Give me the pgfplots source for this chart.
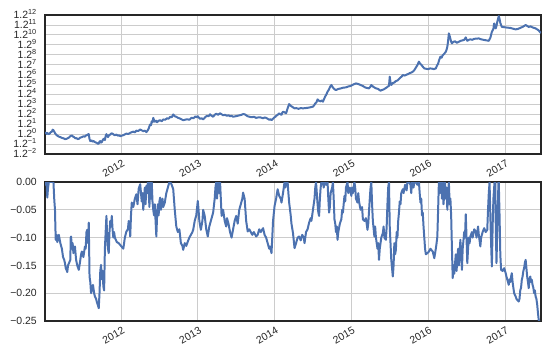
\documentclass[border=0pt]{standalone}
\usepackage{pgfplots}
\pgfplotsset{compat=1.18}
\usepackage{fontspec}
\setmainfont{Liberation Sans}
\definecolor{sbblue}{HTML}{4C72B0}
\definecolor{txt}{HTML}{262626}
\definecolor{gridc}{HTML}{CCCCCC}
\pgfplotstableread{
x y
2011.01 0.05
2011.02 0.15
2011.03 0.02
2011.04 0.12
2011.055 0.00
2011.07 0.05
2011.085 0.20
2011.10 0.25
2011.11 0.45
2011.12 0.40
2011.13 0.25
2011.14 0.10
2011.155 -0.05
2011.17 -0.15
2011.19 -0.25
2011.21 -0.30
2011.23 -0.38
2011.25 -0.42
2011.27 -0.50
2011.29 -0.47
2011.305 -0.42
2011.32 -0.35
2011.34 -0.20
2011.36 -0.13
2011.375 -0.25
2011.39 -0.30
2011.405 -0.42
2011.42 -0.40
2011.435 -0.50
2011.45 -0.47
2011.47 -0.35
2011.49 -0.30
2011.51 -0.22
2011.53 -0.25
2011.545 -0.12
2011.56 -0.10
2011.57 -0.02
2011.58 0.00
2011.59 -0.50
2011.60 -0.70
2011.615 -0.62
2011.63 -0.75
2011.645 -0.70
2011.66 -0.80
2011.675 -0.85
2011.69 -0.90
2011.70 -0.98
2011.71 -0.94
2011.72 -0.75
2011.73 -0.70
2011.74 -0.85
2011.75 -0.80
2011.765 -0.55
2011.78 -0.45
2011.79 -0.60
2011.80 -0.20
2011.81 0.00
2011.82 -0.15
2011.83 -0.30
2011.845 -0.10
2011.86 -0.05
2011.875 0.08
2011.89 0.05
2011.905 -0.05
2011.92 -0.10
2011.94 -0.05
2011.96 -0.15
2011.975 -0.12
2011.99 -0.20
2012.01 -0.15
2012.03 -0.10
2012.05 -0.02
2012.07 0.05
2012.095 0.02
2012.12 0.13
2012.14 0.20
2012.16 0.25
2012.18 0.18
2012.20 0.35
2012.225 0.32
2012.25 0.47
2012.27 0.38
2012.29 0.30
2012.31 0.35
2012.33 0.20
2012.345 0.35
2012.36 0.55
2012.37 0.80
2012.38 0.97
2012.39 0.90
2012.40 1.30
2012.41 1.20
2012.42 1.64
2012.43 1.40
2012.44 1.25
2012.455 1.35
2012.47 1.20
2012.49 1.35
2012.51 1.40
2012.53 1.30
2012.55 1.48
2012.575 1.45
2012.60 1.60
2012.62 1.55
2012.64 1.75
2012.66 1.70
2012.68 1.98
2012.70 1.80
2012.72 1.75
2012.74 1.65
2012.76 1.60
2012.785 1.50
2012.81 1.40
2012.835 1.45
2012.86 1.50
2012.89 1.45
2012.92 1.65
2012.945 1.60
2012.97 1.80
2012.985 1.70
2013.00 1.80
2013.015 1.65
2013.03 1.55
2013.05 1.60
2013.07 1.48
2013.095 1.70
2013.12 1.85
2013.14 1.80
2013.16 2.00
2013.18 1.85
2013.20 1.75
2013.22 1.95
2013.24 2.05
2013.265 1.95
2013.29 2.10
2013.31 2.00
2013.33 1.90
2013.355 1.95
2013.38 1.85
2013.40 1.90
2013.42 1.80
2013.44 1.85
2013.46 1.75
2013.49 1.80
2013.52 1.85
2013.545 1.90
2013.57 1.95
2013.59 2.02
2013.61 2.00
2013.63 1.90
2013.65 1.80
2013.675 1.75
2013.70 1.70
2013.73 1.75
2013.76 1.64
2013.785 1.68
2013.81 1.70
2013.83 1.65
2013.85 1.60
2013.87 1.68
2013.89 1.64
2013.91 1.55
2013.93 1.45
2013.945 1.50
2013.96 1.40
2013.98 1.55
2014.00 1.70
2014.01 1.75
2014.02 1.83
2014.04 1.95
2014.06 2.10
2014.075 2.00
2014.09 1.95
2014.10 2.15
2014.11 2.26
2014.13 2.20
2014.15 2.10
2014.17 2.60
2014.19 3.03
2014.205 2.90
2014.22 2.80
2014.24 2.70
2014.26 2.60
2014.285 2.62
2014.31 2.55
2014.34 2.62
2014.37 2.60
2014.40 2.62
2014.43 2.65
2014.465 2.70
2014.50 2.77
2014.515 2.90
2014.53 3.10
2014.545 3.20
2014.56 3.50
2014.58 3.35
2014.60 3.30
2014.615 3.40
2014.63 3.27
2014.645 3.55
2014.66 3.80
2014.675 4.00
2014.69 4.28
2014.705 4.45
2014.72 4.70
2014.73 4.85
2014.74 4.95
2014.755 4.75
2014.77 4.60
2014.785 4.50
2014.80 4.44
2014.83 4.55
2014.86 4.60
2014.895 4.68
2014.93 4.71
2014.96 4.80
2014.99 4.85
2015.025 5.00
2015.06 5.11
2015.09 5.05
2015.12 4.95
2015.15 4.85
2015.18 4.70
2015.205 4.65
2015.23 4.61
2015.245 4.75
2015.26 4.95
2015.28 4.80
2015.30 4.70
2015.325 4.60
2015.35 4.55
2015.365 4.45
2015.38 4.38
2015.40 4.45
2015.42 4.50
2015.44 4.60
2015.46 4.70
2015.475 4.80
2015.49 4.85
2015.50 5.79
2015.51 5.20
2015.52 4.95
2015.54 5.15
2015.56 5.20
2015.58 5.35
2015.60 5.40
2015.62 5.55
2015.64 5.70
2015.655 5.80
2015.67 5.95
2015.695 5.90
2015.72 6.00
2015.74 6.05
2015.76 6.15
2015.78 6.20
2015.80 6.29
2015.82 6.45
2015.84 6.70
2015.86 6.95
2015.88 7.30
2015.895 7.10
2015.91 7.00
2015.93 6.80
2015.95 6.62
2015.975 6.58
2016.00 6.55
2016.025 6.62
2016.05 6.60
2016.075 6.55
2016.10 6.62
2016.115 6.90
2016.13 7.10
2016.145 7.50
2016.16 7.80
2016.175 7.70
2016.19 7.95
2016.21 8.10
2016.23 8.30
2016.24 8.50
2016.25 8.80
2016.26 9.40
2016.27 10.15
2016.28 9.90
2016.29 9.60
2016.30 9.30
2016.31 9.14
2016.33 9.30
2016.35 9.35
2016.375 9.20
2016.40 9.31
2016.425 9.40
2016.45 9.45
2016.47 9.50
2016.49 9.74
2016.50 9.55
2016.51 9.40
2016.53 9.50
2016.55 9.55
2016.575 9.50
2016.60 9.60
2016.63 9.62
2016.66 9.64
2016.69 9.55
2016.72 9.50
2016.755 9.45
2016.79 9.40
2016.80 9.55
2016.81 9.70
2016.82 10.00
2016.83 10.30
2016.84 10.45
2016.85 10.60
2016.855 10.90
2016.86 11.15
2016.87 10.80
2016.88 10.65
2016.89 10.90
2016.90 11.30
2016.91 11.60
2016.92 11.89
2016.93 11.60
2016.94 11.20
2016.95 11.00
2016.96 10.80
2016.985 10.78
2017.01 10.75
2017.04 10.72
2017.07 10.70
2017.105 10.62
2017.14 10.55
2017.17 10.60
2017.20 10.70
2017.235 10.82
2017.27 10.99
2017.29 10.90
2017.31 10.80
2017.335 10.85
2017.36 10.75
2017.38 10.70
2017.40 10.65
2017.42 10.55
2017.44 10.45
2017.45 10.35
2017.46 10.25
2017.47 10.20
}\cumdata
\pgfplotstableread{
x y
2011.01 0
2011.02 -0.005
2011.03 0
2011.04 -0.028
2011.05 -0.01
2011.06 0
2011.09 0
2011.12 0
2011.13 -0.03
2011.14 -0.05
2011.145 -0.08
2011.15 -0.104
2011.16 -0.095
2011.17 -0.108
2011.19 -0.095
2011.21 -0.11
2011.23 -0.12
2011.245 -0.135
2011.26 -0.14
2011.27 -0.146
2011.28 -0.155
2011.29 -0.158
2011.30 -0.162
2011.31 -0.150
2011.325 -0.145
2011.34 -0.14
2011.345 -0.10
2011.35 -0.098
2011.36 -0.12
2011.37 -0.11
2011.38 -0.128
2011.39 -0.12
2011.40 -0.116
2011.415 -0.14
2011.43 -0.15
2011.45 -0.158
2011.465 -0.145
2011.48 -0.13
2011.49 -0.125
2011.51 -0.135
2011.53 -0.116
2011.54 -0.12
2011.55 -0.09
2011.56 -0.086
2011.57 -0.11
2011.58 -0.073
2011.59 -0.17
2011.60 -0.18
2011.61 -0.20
2011.62 -0.194
2011.635 -0.185
2011.65 -0.20
2011.66 -0.206
2011.675 -0.21
2011.69 -0.218
2011.70 -0.222
2011.71 -0.227
2011.72 -0.20
2011.73 -0.16
2011.74 -0.149
2011.75 -0.175
2011.76 -0.16
2011.77 -0.188
2011.78 -0.195
2011.79 -0.12
2011.80 -0.09
2011.81 -0.061
2011.82 -0.10
2011.83 -0.12
2011.84 -0.128
2011.85 -0.09
2011.86 -0.07
2011.87 -0.08
2011.88 -0.061
2011.89 -0.085
2011.90 -0.10
2011.91 -0.09
2011.92 -0.10
2011.945 -0.108
2011.97 -0.11
2012.00 -0.115
2012.03 -0.12
2012.05 -0.10
2012.07 -0.089
2012.09 -0.085
2012.10 -0.07
2012.11 -0.075
2012.12 -0.098
2012.13 -0.06
2012.14 -0.037
2012.16 -0.045
2012.18 -0.03
2012.20 -0.022
2012.215 -0.04
2012.23 -0.012
2012.25 -0.004
2012.26 -0.02
2012.27 -0.035
2012.28 -0.02
2012.29 -0.05
2012.30 -0.03
2012.31 -0.01
2012.32 -0.04
2012.33 -0.007
2012.34 -0.02
2012.35 0
2012.36 -0.015
2012.37 -0.045
2012.38 0
2012.39 -0.03
2012.40 0
2012.41 -0.035
2012.42 -0.05
2012.43 -0.06
2012.44 -0.04
2012.45 -0.07
2012.46 -0.098
2012.47 -0.06
2012.48 -0.04
2012.49 -0.06
2012.50 -0.035
2012.51 -0.028
2012.52 -0.05
2012.54 -0.03
2012.55 -0.045
2012.57 -0.037
2012.59 -0.02
2012.61 -0.01
2012.63 0
2012.64 0
2012.66 -0.005
2012.68 -0.013
2012.70 -0.05
2012.72 -0.08
2012.74 -0.09
2012.76 -0.085
2012.78 -0.11
2012.80 -0.115
2012.81 -0.122
2012.83 -0.11
2012.85 -0.115
2012.87 -0.107
2012.89 -0.10
2012.91 -0.095
2012.93 -0.09
2012.94 -0.086
2012.96 -0.07
2012.98 -0.06
2013.00 -0.034
2013.01 -0.05
2013.02 -0.07
2013.04 -0.086
2013.06 -0.07
2013.07 -0.05
2013.09 -0.061
2013.11 -0.085
2013.13 -0.098
2013.15 -0.08
2013.17 -0.07
2013.19 -0.06
2013.20 -0.055
2013.22 -0.03
2013.23 -0.01
2013.24 0
2013.25 -0.03
2013.26 -0.01
2013.27 0
2013.28 -0.02
2013.29 0
2013.30 -0.03
2013.31 -0.061
2013.33 -0.05
2013.35 -0.07
2013.37 -0.08
2013.38 -0.065
2013.40 -0.075
2013.42 -0.09
2013.44 -0.10
2013.46 -0.085
2013.48 -0.07
2013.50 -0.061
2013.52 -0.075
2013.54 -0.05
2013.56 -0.04
2013.58 -0.03
2013.59 -0.019
2013.61 -0.03
2013.62 -0.05
2013.63 -0.07
2013.65 -0.089
2013.67 -0.085
2013.69 -0.09
2013.71 -0.095
2013.73 -0.09
2013.76 -0.098
2013.78 -0.095
2013.80 -0.085
2013.82 -0.09
2013.85 -0.083
2013.87 -0.095
2013.89 -0.10
2013.91 -0.11
2013.93 -0.12
2013.94 -0.116
2013.96 -0.128
2013.97 -0.10
2013.98 -0.07
2014.00 -0.043
2014.02 -0.03
2014.04 -0.013
2014.06 -0.025
2014.08 -0.03
2014.09 -0.037
2014.11 -0.02
2014.13 0
2014.14 -0.01
2014.15 0
2014.17 0
2014.18 -0.02
2014.19 -0.037
2014.21 -0.06
2014.22 -0.075
2014.24 -0.092
2014.26 -0.119
2014.28 -0.11
2014.30 -0.10
2014.32 -0.098
2014.34 -0.105
2014.36 -0.095
2014.38 -0.10
2014.39 -0.11
2014.41 -0.09
2014.43 -0.085
2014.45 -0.073
2014.47 -0.065
2014.48 -0.07
2014.50 -0.05
2014.52 -0.03
2014.53 -0.01
2014.54 0
2014.55 -0.02
2014.56 -0.04
2014.57 -0.055
2014.58 -0.061
2014.59 -0.03
2014.60 -0.01
2014.61 0
2014.63 0
2014.64 -0.01
2014.65 0
2014.67 -0.005
2014.69 0
2014.70 -0.03
2014.71 -0.055
2014.72 -0.045
2014.73 -0.02
2014.75 -0.01
2014.76 0
2014.77 -0.03
2014.78 -0.067
2014.79 -0.075
2014.80 -0.09
2014.81 -0.08
2014.82 -0.104
2014.83 -0.09
2014.85 -0.075
2014.87 -0.067
2014.88 -0.05
2014.89 -0.055
2014.91 -0.025
2014.92 -0.035
2014.93 -0.01
2014.95 0
2014.96 -0.02
2014.98 -0.01
2015.00 -0.025
2015.01 -0.01
2015.02 -0.02
2015.04 0
2015.05 -0.01
2015.06 -0.03
2015.08 -0.037
2015.09 -0.02
2015.10 -0.035
2015.12 -0.05
2015.14 -0.045
2015.15 -0.067
2015.17 -0.07
2015.19 -0.065
2015.21 -0.086
2015.22 -0.075
2015.24 -0.03
2015.25 -0.01
2015.26 0
2015.27 -0.04
2015.28 -0.07
2015.30 -0.098
2015.31 -0.08
2015.32 -0.10
2015.34 -0.12
2015.35 -0.11
2015.36 -0.14
2015.37 -0.12
2015.39 -0.10
2015.41 -0.092
2015.42 -0.08
2015.43 -0.10
2015.45 -0.104
2015.46 -0.08
2015.47 -0.04
2015.48 -0.01
2015.49 0
2015.50 -0.08
2015.52 -0.14
2015.54 -0.17
2015.55 -0.15
2015.56 -0.11
2015.57 -0.13
2015.58 -0.122
2015.59 -0.09
2015.60 -0.10
2015.61 -0.07
2015.62 -0.055
2015.63 -0.035
2015.64 -0.04
2015.65 -0.02
2015.67 -0.013
2015.68 -0.02
2015.70 -0.005
2015.72 -0.015
2015.73 0
2015.75 0
2015.77 -0.005
2015.78 -0.02
2015.79 0
2015.81 -0.01
2015.82 0
2015.84 0
2015.86 -0.005
2015.88 0
2015.89 -0.02
2015.90 -0.037
2015.91 -0.03
2015.92 -0.06
2015.93 -0.055
2015.94 -0.08
2015.95 -0.1
2015.96 -0.12
2015.97 -0.13
2015.99 -0.128
2016.01 -0.125
2016.03 -0.12
2016.04 -0.122
2016.06 -0.125
2016.08 -0.137
2016.10 -0.12
2016.11 -0.11
2016.12 -0.098
2016.13 -0.05
2016.14 0
2016.15 -0.02
2016.16 -0.01
2016.17 0
2016.18 -0.03
2016.19 0
2016.20 -0.04
2016.21 -0.02
2016.22 0
2016.23 -0.03
2016.24 -0.01
2016.25 -0.05
2016.26 -0.02
2016.27 0
2016.28 -0.04
2016.29 -0.03
2016.30 -0.061
2016.31 -0.12
2016.32 -0.173
2016.33 -0.15
2016.34 -0.165
2016.36 -0.13
2016.37 -0.16
2016.38 -0.14
2016.39 -0.12
2016.40 -0.15
2016.42 -0.104
2016.43 -0.13
2016.44 -0.158
2016.45 -0.12
2016.47 -0.09
2016.48 -0.10
2016.49 -0.058
2016.50 -0.10
2016.51 -0.146
2016.52 -0.12
2016.53 -0.10
2016.54 -0.11
2016.55 -0.098
2016.57 -0.09
2016.58 -0.10
2016.60 -0.085
2016.62 -0.089
2016.63 -0.10
2016.65 -0.08
2016.66 -0.095
2016.68 -0.116
2016.69 -0.10
2016.71 -0.09
2016.73 -0.083
2016.75 -0.09
2016.77 -0.086
2016.78 -0.05
2016.79 -0.02
2016.80 0
2016.81 -0.06
2016.82 -0.11
2016.83 -0.152
2016.84 -0.08
2016.85 -0.03
2016.86 -0.01
2016.865 0
2016.87 -0.03
2016.875 0
2016.88 -0.07
2016.89 -0.146
2016.90 -0.09
2016.91 -0.04
2016.915 0
2016.92 0
2016.93 -0.06
2016.94 -0.13
2016.95 -0.158
2016.97 -0.16
2016.99 -0.155
2017.01 -0.164
2017.02 -0.17
2017.03 -0.175
2017.04 -0.18
2017.05 -0.185
2017.06 -0.175
2017.07 -0.18
2017.08 -0.17
2017.09 -0.164
2017.10 -0.18
2017.11 -0.19
2017.12 -0.20
2017.14 -0.206
2017.15 -0.21
2017.16 -0.212
2017.18 -0.215
2017.19 -0.21
2017.20 -0.195
2017.21 -0.19
2017.22 -0.176
2017.23 -0.17
2017.24 -0.16
2017.25 -0.155
2017.26 -0.145
2017.27 -0.14
2017.28 -0.155
2017.29 -0.17
2017.30 -0.18
2017.31 -0.191
2017.32 -0.175
2017.33 -0.17
2017.34 -0.18
2017.35 -0.176
2017.36 -0.185
2017.37 -0.19
2017.38 -0.20
2017.39 -0.195
2017.40 -0.206
2017.41 -0.21
2017.42 -0.22
2017.43 -0.235
2017.44 -0.248
2017.45 -0.25
}\dddata
\begin{document}
\begin{tikzpicture}[x=1bp,y=1bp]
\pgfplotsset{
  base/.style={
    scale only axis, width=496bp,
    xmin=2011.01, xmax=2017.47,
    xtick={2012,2013,2014,2015,2016,2017},
    xticklabels={2012,2013,2014,2015,2016,2017},
    grid=major, grid style={gridc, line width=0.8pt},
    major tick length=0pt,
    axis line style={txt, line width=1.2pt},
    tick label style={font=\fontsize{10.5}{12}\selectfont, text=txt},
    xticklabel style={rotate=30, anchor=north east, inner sep=1pt, yshift=-4bp, xshift=-1bp},
    yticklabel style={inner sep=1pt, xshift=-7bp},
  }
}
\begin{axis}[base, at={(45bp,205bp)}, anchor=south west, height=139bp,
  ymin=-2, ymax=12, ytick={-2,...,12},
  yticklabels={1.2\textsuperscript{−2},1.2\textsuperscript{−1},1.2\textsuperscript{0},1.2\textsuperscript{1},1.2\textsuperscript{2},1.2\textsuperscript{3},1.2\textsuperscript{4},1.2\textsuperscript{5},1.2\textsuperscript{6},1.2\textsuperscript{7},1.2\textsuperscript{8},1.2\textsuperscript{9},1.2\textsuperscript{10},1.2\textsuperscript{11},1.2\textsuperscript{12}},
  yticklabel style={yshift=1bp}]
\addplot[sbblue, line width=2pt, line join=round] table[x=x,y=y] {\cumdata};
\end{axis}
\begin{axis}[base, at={(45bp,38bp)}, anchor=south west, height=139bp,
  ymin=-0.25, ymax=0, ytick={-0.25,-0.2,-0.15,-0.1,-0.05,0},
  yticklabels={−0.25,−0.20,−0.15,−0.10,−0.05,0.00}]
\addplot[sbblue, line width=2pt, line join=round] table[x=x,y=y] {\dddata};
\end{axis}
\useasboundingbox (0,0) rectangle (554bp,359bp);
\end{tikzpicture}
\end{document}
